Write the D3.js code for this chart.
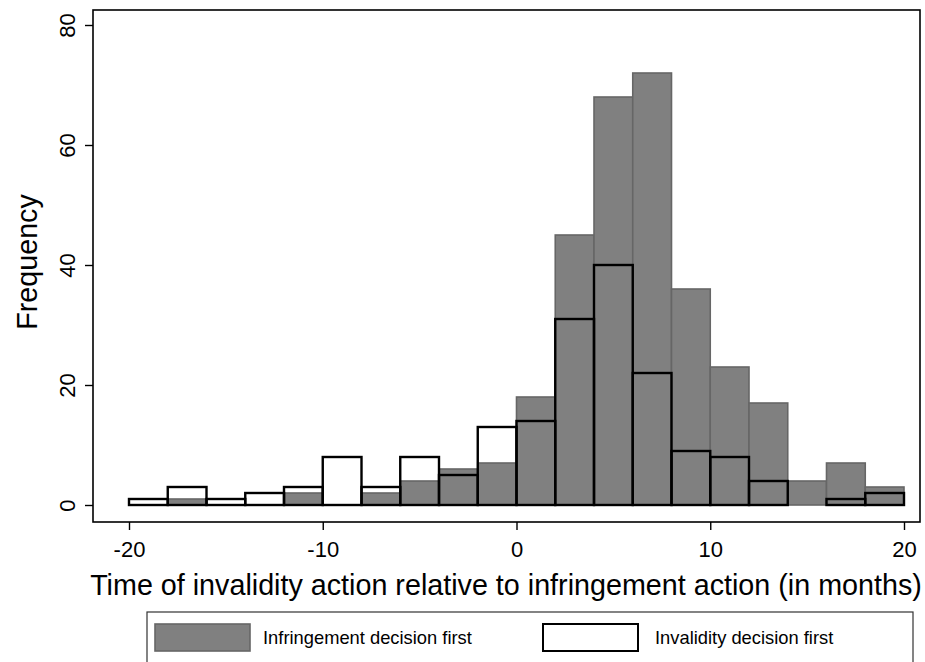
<!DOCTYPE html>
<html>
<head>
<meta charset="utf-8">
<script src="https://cdn.jsdelivr.net/npm/d3@7"></script>
<style>
  html, body { margin: 0; padding: 0; background: #fff; }
  svg { display: block; font-family: "Liberation Sans", Arial, Helvetica, sans-serif; }
</style>
</head>
<body>
<svg id="chart" width="925" height="662"></svg>
<script>
// Bin edges (months), width 2
const binStarts = [-20,-18,-16,-14,-12,-10,-8,-6,-4,-2,0,2,4,6,8,10,12,14,16,18];
const binWidth = 2;
// Frequencies
const infringementFirst = [0,1,0,0,2,0,2,4,6,7,18,45,68,72,36,23,17,4,7,3];
const invalidityFirst   = [1,3,1,2,3,8,3,8,5,13,14,31,40,22,9,8,4,0,1,2];
const xTicks = [-20,-10,0,10,20];
const yTicks = [0,20,40,60,80];
const xTitle = "Time of invalidity action relative to infringement action (in months)";
const yTitle = "Frequency";
const legendLabels = ["Infringement decision first", "Invalidity decision first"];

const svg = d3.select("#chart");
const frame = {left: 93, top: 10, right: 920, bottom: 522};

const x = d3.scaleLinear().domain([-20, 20]).range([129, 904]);
const y = d3.scaleLinear().domain([0, 80]).range([505, 25]);

const grayData = binStarts.map((s, i) => ({x0: s, x1: s + binWidth, v: infringementFirst[i]}));
const whiteData = binStarts.map((s, i) => ({x0: s, x1: s + binWidth, v: invalidityFirst[i]}));

// gray bars
svg.append("g").selectAll("rect").data(grayData.filter(d => d.v > 0)).join("rect")
  .attr("x", d => x(d.x0)).attr("width", d => x(d.x1) - x(d.x0))
  .attr("y", d => y(d.v)).attr("height", d => y(0) - y(d.v))
  .attr("fill", "#808080").attr("stroke", "#666666").attr("stroke-width", 1.6);

// outline bars
svg.append("g").selectAll("rect").data(whiteData.filter(d => d.v > 0)).join("rect")
  .attr("x", d => x(d.x0)).attr("width", d => x(d.x1) - x(d.x0))
  .attr("y", d => y(d.v)).attr("height", d => y(0) - y(d.v))
  .attr("fill", "none").attr("stroke", "#000").attr("stroke-width", 2.4);

// frame
svg.append("rect")
  .attr("x", frame.left).attr("y", frame.top)
  .attr("width", frame.right - frame.left).attr("height", frame.bottom - frame.top)
  .attr("fill", "none").attr("stroke", "#000").attr("stroke-width", 1.6);

const fmt = d => String(d);

// y axis
const yAxis = d3.axisLeft(y).tickValues(yTicks).tickSize(8).tickPadding(0).tickFormat(fmt);
const gy = svg.append("g").attr("transform", `translate(${frame.left},0)`).call(yAxis);
gy.select(".domain").remove();
gy.selectAll(".tick line").attr("stroke", "#000").attr("stroke-width", 1.4);
gy.selectAll(".tick text")
  .attr("x", 0).attr("dy", null)
  .attr("transform", "translate(-18,0) rotate(-90)")
  .attr("text-anchor", "middle")
  .attr("font-size", 22).attr("fill", "#000");

// x axis
const xAxis = d3.axisBottom(x).tickValues(xTicks).tickSize(8).tickPadding(0).tickFormat(fmt);
const gx = svg.append("g").attr("transform", `translate(0,${frame.bottom})`).call(xAxis);
gx.select(".domain").remove();
gx.selectAll(".tick line").attr("stroke", "#000").attr("stroke-width", 1.4);
gx.selectAll(".tick text").attr("y", 35).attr("dy", null)
  .attr("font-size", 22).attr("fill", "#000");

// fit helper
function fitText(sel, targetWidth) {
  sel.attr("font-size", 100);
  const w = sel.node().getComputedTextLength();
  sel.attr("font-size", 100 * targetWidth / w);
}

// x title
const xt = svg.append("text").attr("x", 506).attr("y", 595)
  .attr("text-anchor", "middle").attr("fill", "#000").text(xTitle);
fitText(xt, 832);

// y title
const yt = svg.append("text").attr("transform", "translate(37,262) rotate(-90)")
  .attr("text-anchor", "middle").attr("fill", "#000").text(yTitle);
yt.attr("font-size", xt.attr("font-size"));

// legend
const lg = svg.append("g");
lg.append("rect").attr("x", 147).attr("y", 612).attr("width", 766).attr("height", 56)
  .attr("fill", "#fff").attr("stroke", "#333").attr("stroke-width", 1.2);
lg.append("rect").attr("x", 155).attr("y", 624).attr("width", 95).attr("height", 27)
  .attr("fill", "#808080").attr("stroke", "#666666").attr("stroke-width", 1.6);
lg.append("rect").attr("x", 543).attr("y", 624).attr("width", 95).attr("height", 27)
  .attr("fill", "#fff").attr("stroke", "#000").attr("stroke-width", 2);
const l1 = lg.append("text").attr("x", 263).attr("y", 644).attr("fill", "#000").text(legendLabels[0]);
fitText(l1, 209);
lg.append("text").attr("x", 655).attr("y", 644).attr("fill", "#000")
  .attr("font-size", l1.attr("font-size")).text(legendLabels[1]);
</script>
</body>
</html>
